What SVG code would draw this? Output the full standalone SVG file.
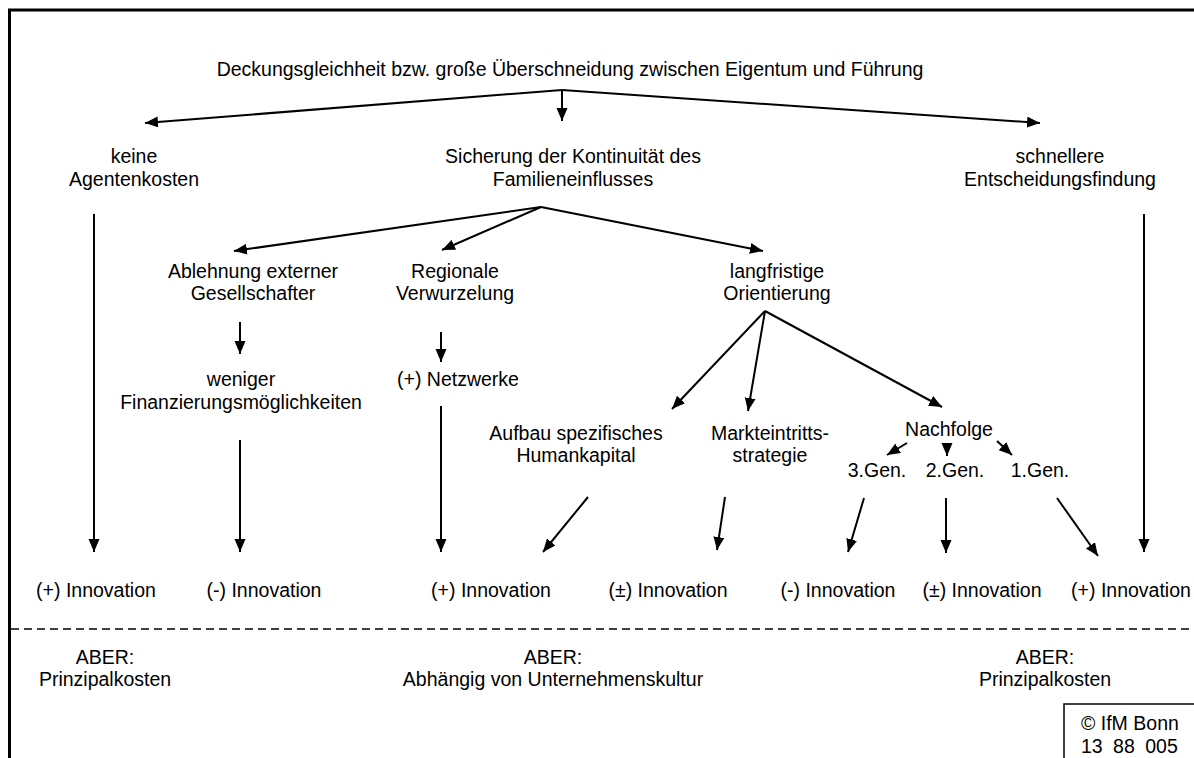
<svg xmlns="http://www.w3.org/2000/svg" width="1194" height="758" viewBox="0 0 1194 758">
<style>
text{font-family:"Liberation Sans",Arial,sans-serif;font-size:19.5px;fill:#000;text-anchor:middle}
.c{fill:none;stroke:#000;stroke-width:2}
.a{marker-end:url(#ah)}
.frame{fill:none;stroke:#000;stroke-width:3}
</style>
<defs>
<marker id="ah" markerUnits="userSpaceOnUse" markerWidth="14" markerHeight="12" refX="13" refY="5.5" orient="auto">
<path d="M0,0 L13,5.5 L0,11 z" fill="#000"/>
</marker>
</defs>
<rect width="1194" height="758" fill="#fff"/>
<g id="frame">
<path class="frame" d="M9.5,758 V10 H1194"/>
<line x1="11" y1="629" x2="1194" y2="629" stroke="#000" stroke-width="1.3" stroke-dasharray="8 5"/>
</g>
<g id="connectors">
<path class="c a" d="M562,90 L145,123"/>
<path class="c a" d="M562,90 L562,121"/>
<path class="c a" d="M562,90 L1040,123"/>
<path class="c a" d="M94,214 L94,552"/>
<path class="c a" d="M1144,214 L1144,552"/>
<path class="c a" d="M541,207 L234,251"/>
<path class="c a" d="M541,207 L442,250"/>
<path class="c a" d="M541,207 L763,251"/>
<path class="c a" d="M240,322 L240,354"/>
<path class="c a" d="M441,332 L441,362"/>
<path class="c a" d="M240,440 L240,552"/>
<path class="c a" d="M441,406 L441,552"/>
<path class="c a" d="M765,311 L672,409"/>
<path class="c a" d="M765,311 L748,411"/>
<path class="c a" d="M765,311 L942,407"/>
<path class="c a" d="M907,443 L887,455"/>
<path class="c a" d="M947,443 L947,456"/>
<path class="c a" d="M997,441 L1012,455"/>
<path class="c a" d="M588,497 L543,552"/>
<path class="c a" d="M725,497 L717,550"/>
<path class="c a" d="M864,498 L848,552"/>
<path class="c a" d="M946,498 L946,553"/>
<path class="c a" d="M1057,498 L1098,556"/>
</g>
<g id="n-top"><text x="570" y="76">Deckungsgleichheit bzw. große Überschneidung zwischen Eigentum und Führung</text></g>
<g id="n-keine"><text x="134" y="163">keine</text><text x="134" y="186">Agentenkosten</text></g>
<g id="n-sicherung"><text x="573" y="163">Sicherung der Kontinuität des</text><text x="573" y="186">Familieneinflusses</text></g>
<g id="n-schnellere"><text x="1060" y="163">schnellere</text><text x="1060" y="186">Entscheidungsfindung</text></g>
<g id="n-ablehnung"><text x="253" y="278">Ablehnung externer</text><text x="253" y="300">Gesellschafter</text></g>
<g id="n-regionale"><text x="455" y="278">Regionale</text><text x="455" y="300">Verwurzelung</text></g>
<g id="n-langfristig"><text x="777" y="278">langfristige</text><text x="777" y="300">Orientierung</text></g>
<g id="n-weniger"><text x="241" y="386">weniger</text><text x="241" y="409">Finanzierungsmöglichkeiten</text></g>
<g id="n-netzwerke"><text x="458" y="386">(+) Netzwerke</text></g>
<g id="n-aufbau"><text x="576" y="440">Aufbau spezifisches</text><text x="576" y="462">Humankapital</text></g>
<g id="n-markt"><text x="770" y="440">Markteintritts-</text><text x="770" y="462">strategie</text></g>
<g id="n-nachfolge"><text x="949" y="436">Nachfolge</text></g>
<g id="n-gen3"><text x="877" y="477">3.Gen.</text></g>
<g id="n-gen2"><text x="955" y="477">2.Gen.</text></g>
<g id="n-gen1"><text x="1040" y="477">1.Gen.</text></g>
<g id="n-inno1"><text x="96" y="597">(+) Innovation</text></g>
<g id="n-inno2"><text x="264" y="597">(-) Innovation</text></g>
<g id="n-inno3"><text x="491" y="597">(+) Innovation</text></g>
<g id="n-inno4"><text x="668" y="597">(±) Innovation</text></g>
<g id="n-inno5"><text x="838" y="597">(-) Innovation</text></g>
<g id="n-inno6"><text x="982" y="597">(±) Innovation</text></g>
<g id="n-inno7"><text x="1131" y="597">(+) Innovation</text></g>
<g id="n-aber1"><text x="105" y="664">ABER:</text><text x="105" y="686">Prinzipalkosten</text></g>
<g id="n-aber2"><text x="553" y="664">ABER:</text><text x="553" y="686">Abhängig von Unternehmenskultur</text></g>
<g id="n-aber3"><text x="1045" y="664">ABER:</text><text x="1045" y="686">Prinzipalkosten</text></g>
<g id="n-copy">
<rect x="1064" y="704" width="140" height="60" fill="none" stroke="#000" stroke-width="1.5"/>
<text x="1081" y="730" style="text-anchor:start">© IfM Bonn</text>
<text x="1081" y="753" style="text-anchor:start" word-spacing="5">13 88 005</text>
</g>
</svg>
